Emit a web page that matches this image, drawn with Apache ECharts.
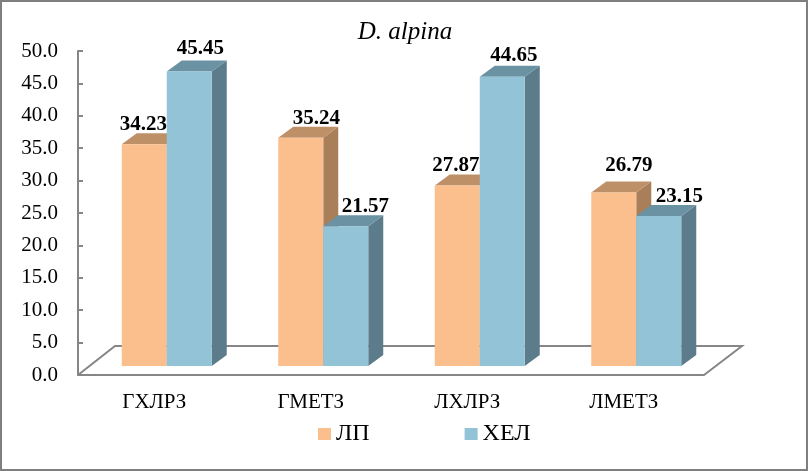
<!DOCTYPE html>
<html><head><meta charset="utf-8">
<style>html,body{margin:0;padding:0;background:#fff}#c{width:808px;height:471px}</style>
<script src="https://cdn.jsdelivr.net/npm/echarts@6/dist/echarts.min.js"></script>
</head><body><div id="c"></div>
<script>
const categories = ['ГХЛРЗ','ГМЕТЗ','ЛХЛРЗ','ЛМЕТЗ'];
const lpValues = [34.23, 35.24, 27.87, 26.79];
const helValues = [45.45, 21.57, 44.65, 23.15];
const tickInterval = 5;
// data-label nudges relative to each bar (dx, dy from top-front centre)
const lpLabelNudge = [[-1,-20],[15.5,-19],[-1.5,-20],[15,-27]];
const helLabelNudge = [[11,-23],[19.5,-20],[11.5,-21],[20.5,-19]];

const FONT = '"Liberation Serif","Times New Roman",serif';
const barW = 45, depthX = 15, depthY = 11, liftY = 9, groupShift = 10.5;
const floorDX = 37, floorDY = 29;

function bar3d(sign, face, top, side, nudges){
  return function(params, api){
    const i = api.value(0), v = api.value(1);
    const c = api.coord([i, v]), z = api.coord([i, 0]);
    const xL = c[0] + groupShift + (sign < 0 ? -barW : 0);
    const xR = xL + barW, yT = c[1] - liftY, yB = z[1] - liftY;
    const n = nudges[params.dataIndex];
    return {type:'group', children:[
      {type:'polygon', shape:{points:[[xR,yT],[xR+depthX,yT-depthY],[xR+depthX,yB-depthY],[xR,yB]]}, style:{fill:side}},
      {type:'polygon', shape:{points:[[xL,yT],[xL+depthX,yT-depthY],[xR+depthX,yT-depthY],[xR,yT]]}, style:{fill:top}},
      {type:'rect', shape:{x:xL,y:yT,width:barW,height:yB-yT}, style:{fill:face}},
      {type:'text', z2:50, style:{text:v.toFixed(2), x:(xL+xR)/2+n[0], y:yT+n[1], align:'center', verticalAlign:'middle',
        font:'bold 21px '+FONT, fill:'#000'}}
    ]};
  };
}
function floor(params, api){
  const band = api.size([1,0])[0];
  const p0 = api.coord([0,0]), p3 = api.coord([categories.length-1,0]);
  const a = [p0[0]-band/2, p0[1]], b = [p3[0]+band/2, p3[1]];
  return {type:'polyline', shape:{points:[a,[a[0]+floorDX,a[1]-floorDY],[b[0]+floorDX+1,b[1]-floorDY],b]},
    style:{stroke:'#868686', lineWidth:2, fill:'none'}};
}
const chart = echarts.init(document.getElementById('c'), null, {renderer:'canvas'});
chart.setOption({
  animation:false,
  backgroundColor:'#fff',
  title:{text:'D. alpina', left:400, top:15, textAlign:'center',
    textStyle:{fontFamily:FONT, fontStyle:'italic', fontWeight:'normal', fontSize:25, color:'#000'}},
  legend:{left:318, top:422, padding:0, itemWidth:13, itemHeight:12, itemGap:95, icon:'rect', selectedMode:false,
    data:['ЛП','ХЕЛ'], textStyle:{fontFamily:FONT, fontSize:24, color:'#000'}},
  grid:{left:78, top:51, width:626, height:324, containLabel:false},
  xAxis:{type:'category', data:categories, boundaryGap:true,
    axisLine:{lineStyle:{color:'#868686',width:2}}, axisTick:{show:false},
    axisLabel:{margin:17, fontFamily:FONT, fontSize:21, color:'#000', interval:0, padding:[0,4,0,0]}},
  yAxis:{type:'value', min:0, max:50, interval:tickInterval,
    axisLine:{show:true,lineStyle:{color:'#868686',width:2}},
    axisTick:{show:true,inside:true,length:5,lineStyle:{color:'#868686',width:2}},
    splitLine:{show:false},
    axisLabel:{margin:20, fontFamily:FONT, fontSize:21, color:'#000', padding:[2,0,0,0], formatter:v=>v.toFixed(1)}},
  graphic:[{type:'rect', shape:{x:1,y:1,width:806,height:469}, style:{fill:'none',stroke:'#7f7f7f',lineWidth:2}, z:100}],
  series:[
    {type:'custom', silent:true, z:1, data:[[0,0]], renderItem:floor, encode:{x:0,y:1}, legendHoverLink:false, clip:false},
    {type:'custom', name:'ЛП', z:2, data:lpValues.map((v,i)=>[i,v]), encode:{x:0,y:1}, itemStyle:{color:'#FBBF8E'},
      renderItem:bar3d(-1,'#FBBF8E','#BE9068','#A97F5A',lpLabelNudge)},
    {type:'custom', name:'ХЕЛ', z:3, data:helValues.map((v,i)=>[i,v]), encode:{x:0,y:1}, itemStyle:{color:'#93C3D6'},
      renderItem:bar3d(1,'#93C3D6','#6A92A3','#5C7C8B',helLabelNudge)}
  ]
});
</script></body></html>
